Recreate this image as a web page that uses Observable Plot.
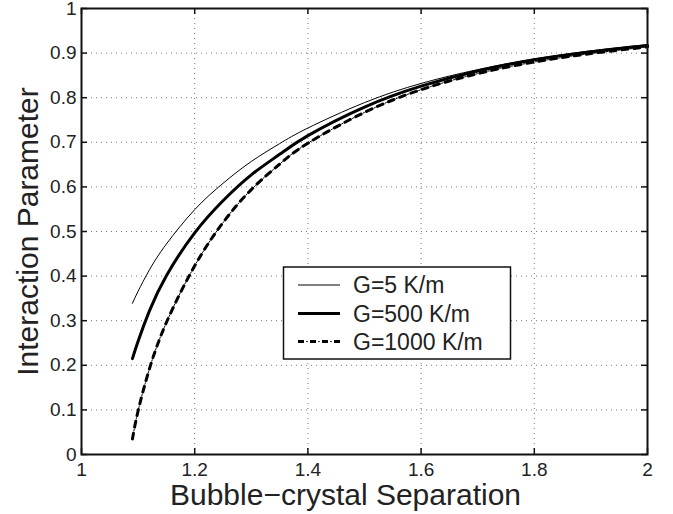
<!DOCTYPE html>
<html>
<head>
<meta charset="utf-8">
<script src="https://cdn.jsdelivr.net/npm/d3@7"></script>
<script src="https://cdn.jsdelivr.net/npm/@observablehq/plot@0.6"></script>
<style>
  body { margin: 0; background: #fff; }
  #chart svg { display: block; }
</style>
</head>
<body>
<div id="chart"></div>
<script>
// Data
const separation = [1.09, 1.10, 1.12, 1.15, 1.20, 1.25, 1.30, 1.35, 1.40, 1.50, 1.60, 1.70, 1.80, 1.90, 2.00];
const g5    = [0.339, 0.366, 0.414, 0.472, 0.549, 0.608, 0.657, 0.697, 0.732, 0.789, 0.832, 0.863, 0.887, 0.905, 0.919];
const g500  = [0.215, 0.254, 0.322, 0.401, 0.497, 0.569, 0.627, 0.673, 0.715, 0.779, 0.826, 0.860, 0.885, 0.903, 0.917];
const g1000 = [0.035, 0.098, 0.192, 0.296, 0.423, 0.520, 0.594, 0.651, 0.698, 0.767, 0.818, 0.854, 0.880, 0.899, 0.914];
const seriesNames = ["G=5 K/m", "G=500 K/m", "G=1000 K/m"];
const xTicks = [1, 1.2, 1.4, 1.6, 1.8, 2];
const xTickLabels = ["1", "1.2", "1.4", "1.6", "1.8", "2"];
const yTicks = [0, 0.1, 0.2, 0.3, 0.4, 0.5, 0.6, 0.7, 0.8, 0.9, 1];
const yTickLabels = ["0", "0.1", "0.2", "0.3", "0.4", "0.5", "0.6", "0.7", "0.8", "0.9", "1"];
const xLabel = "Bubble\u2212crystal Separation";
const yLabel = "Interaction Parameter";

const seriesValues = [g5, g500, g1000];
// each series: list of stroke layers (dash-dot = thick dashes + thin dots)
const styles = [
  [{w: 1, dash: null, off: 0}],
  [{w: 3, dash: null, off: 0}],
  [{w: 3, dash: "6,6", off: 0}, {w: 1, dash: "1.5,10.5", off: -8.25}]
];
const rows = [];
seriesNames.forEach((name, s) => {
  separation.forEach((x, i) => rows.push({series: name, x, y: seriesValues[s][i]}));
});

const font = "'Liberation Sans', Arial, Helvetica, sans-serif";
const W = 673, H = 514;
const mL = 81, mR = 26, mT = 8, mB = 60;
const innerW = W - mL - mR, innerH = H - mT - mB;
const TS = 6;

const xFmt = d => xTickLabels[xTicks.indexOf(d)];
const yFmt = d => yTickLabels[yTicks.indexOf(d)];

const lineMarks = [];
seriesNames.forEach((name, s) => {
  styles[s].forEach(st => {
    lineMarks.push(Plot.line(rows.filter(r => r.series === name), {
      x: "x", y: "y", stroke: "black",
      strokeWidth: st.w,
      strokeDasharray: st.dash,
      strokeDashoffset: st.off,
      curve: "natural"
    }));
  });
});

const chart = Plot.plot({
  width: W, height: H,
  marginLeft: mL, marginRight: mR, marginTop: mT, marginBottom: mB,
  style: {background: "#fff", fontFamily: font, color: "#000", overflow: "visible"},
  x: {domain: [1, 2]},
  y: {domain: [0, 1]},
  marks: [
    Plot.gridX({ticks: xTicks, stroke: "#777", strokeOpacity: 1, strokeWidth: 1, strokeDasharray: "1,4"}),
    Plot.gridY({ticks: yTicks, stroke: "#777", strokeOpacity: 1, strokeWidth: 1, strokeDasharray: "1,4"}),
    ...lineMarks,
    // inward ticks on all four sides
    Plot.ruleX(xTicks, {stroke: "#111", strokeWidth: 1.5, insetTop: innerH - TS}),
    Plot.ruleX(xTicks, {stroke: "#111", strokeWidth: 1.5, insetBottom: innerH - TS}),
    Plot.ruleY(yTicks, {stroke: "#111", strokeWidth: 1.5, insetRight: innerW - TS}),
    Plot.ruleY(yTicks, {stroke: "#111", strokeWidth: 1.5, insetLeft: innerW - TS}),
    // tick labels
    Plot.axisX({anchor: "bottom", ticks: xTicks, tickSize: 0, tickPadding: 8, tickFormat: xFmt, label: null, fontSize: 19, fill: "#222"}),
    Plot.axisY({anchor: "left", ticks: yTicks, tickSize: 0, tickPadding: 5, tickFormat: yFmt, label: null, fontSize: 19, fill: "#222"}),
    Plot.frame({stroke: "#111", strokeWidth: 2}),
    // axis titles
    Plot.text([xLabel], {frameAnchor: "bottom", dx: -19, dy: 50, lineAnchor: "bottom", textAnchor: "middle", fontSize: 30, fill: "#222"}),
    Plot.text([yLabel], {frameAnchor: "left", dx: -44, rotate: -90, lineAnchor: "bottom", textAnchor: "middle", fontSize: 30, fill: "#222"})
  ]
});

document.getElementById("chart").appendChild(chart);

// Legend (inside the plot area)
const svg = d3.select(chart);
const lg = svg.append("g").attr("font-family", font).attr("text-anchor", "start");
const bx = 283.5, by = 267, bw = 227, bh = 92;
lg.append("rect").attr("x", bx).attr("y", by).attr("width", bw).attr("height", bh)
  .attr("fill", "#fff").attr("stroke", "#111").attr("stroke-width", 1.5);
const rowY = [285, 313.5, 341.5];
seriesNames.forEach((name, s) => {
  styles[s].forEach(st => {
    lg.append("line").attr("x1", 298).attr("x2", 340).attr("y1", rowY[s]).attr("y2", rowY[s])
      .attr("stroke", "black").attr("stroke-width", st.w)
      .attr("stroke-dasharray", st.dash)
      .attr("stroke-dashoffset", st.off);
  });
  lg.append("text").attr("x", 353).attr("y", rowY[s]).attr("dy", "0.35em")
    .attr("text-anchor", "start")
    .attr("font-size", 23).attr("fill", "#222").text(name);
});
</script>
</body>
</html>
